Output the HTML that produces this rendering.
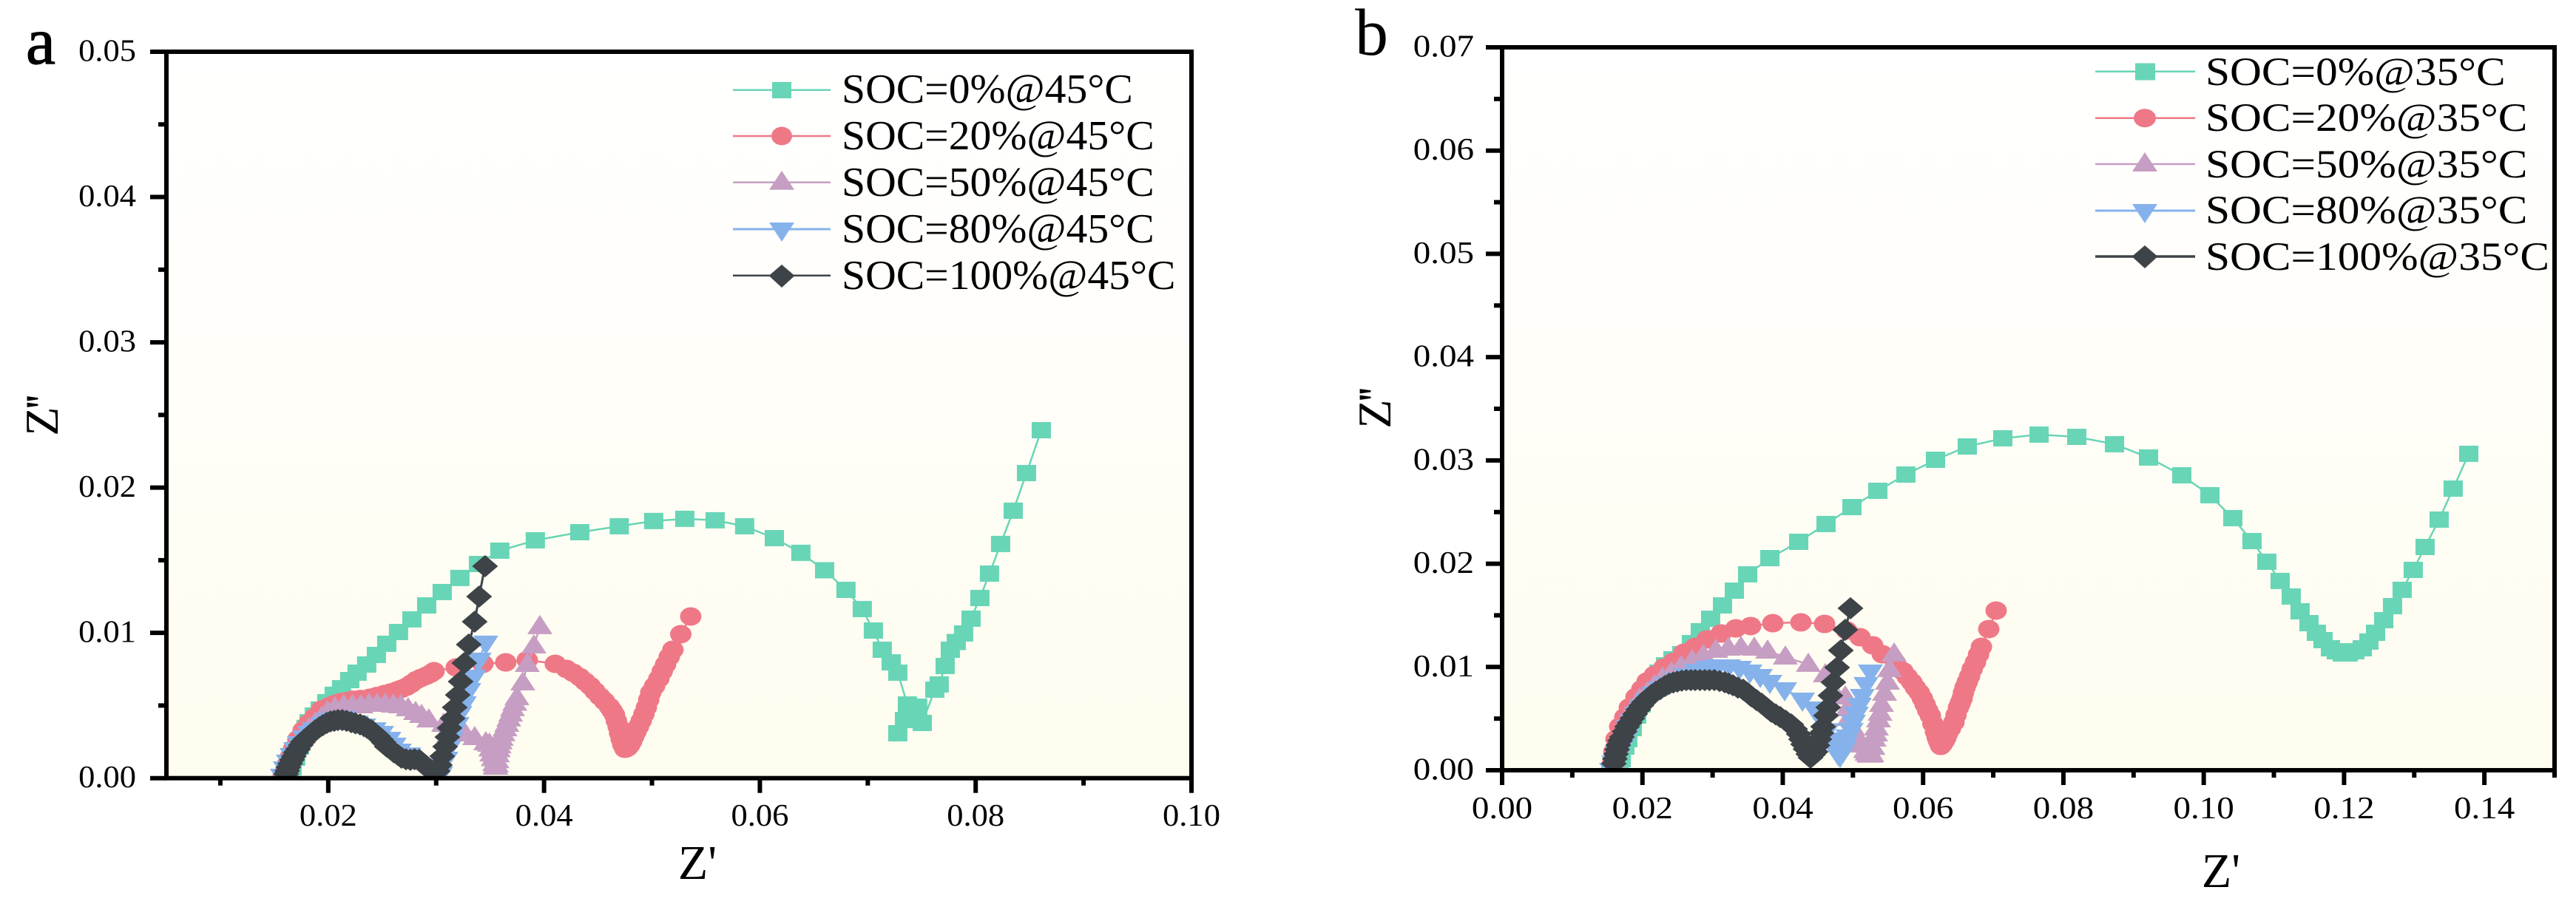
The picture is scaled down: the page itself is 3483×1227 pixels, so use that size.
<!DOCTYPE html>
<html lang="en">
<head>
<meta charset="utf-8">
<title>Nyquist plots at 45°C and 35°C</title>
<style>
html,body{margin:0;padding:0;background:#fff;width:3483px;height:1227px;overflow:hidden}
svg{display:block}
text{font-family:"Liberation Serif",serif;fill:#000}
</style>
</head>
<body>
<svg id="fig" xmlns="http://www.w3.org/2000/svg" width="3483" height="1227" viewBox="0 0 3483 1227">
<defs>
<linearGradient id="bg" x1="0" y1="0" x2="0" y2="1"><stop offset="0" stop-color="#ffffff"/><stop offset="0.5" stop-color="#fffef8"/><stop offset="0.85" stop-color="#fffdf1"/><stop offset="1" stop-color="#fffdf0"/></linearGradient>
<clipPath id="clipA"><rect x="228" y="73" width="1380" height="977"/></clipPath>
<clipPath id="clipB"><rect x="2034" y="67" width="1417" height="972"/></clipPath>
</defs>
<rect x="225" y="70" width="1386" height="983" fill="url(#bg)"/>
<rect x="2031" y="64" width="1423" height="978" fill="url(#bg)"/>
<g id="marksA" clip-path="url(#clipA)"></g>
<g id="marksB" clip-path="url(#clipB)"></g>
<g id="axesA"></g>
<g id="axesB"></g>

<text x="35" y="86" font-size="90" stroke="#000" stroke-width="1.2">a</text>
<text x="1832" y="74" font-size="90">b</text>
<text x="943" y="1189" font-size="66" text-anchor="middle">Z'</text>
<text x="3003" y="1200" font-size="66" text-anchor="middle">Z'</text>
<text transform="translate(78,563) rotate(-90)" font-size="64" letter-spacing="-3" text-anchor="middle">Z''</text>
<text transform="translate(1880,553) rotate(-90)" font-size="64" letter-spacing="-3" text-anchor="middle">Z''</text>

<g>
<g><line x1="991" x2="1123" y1="121.7" y2="121.7" stroke="#68d5b6" stroke-width="2.5"/><rect x="1044" y="111" width="26" height="22" fill="#68d5b6"/><text transform="translate(1138,139) scale(1.03,1)" font-size="56">SOC=0%@45°C</text></g>
<g><line x1="991" x2="1123" y1="184" y2="184" stroke="#ef7887" stroke-width="2.5"/><ellipse cx="1057" cy="184" rx="14" ry="12.5" fill="#ef7887"/><text transform="translate(1138,202) scale(1.03,1)" font-size="56">SOC=20%@45°C</text></g>
<g><line x1="991" x2="1123" y1="246.7" y2="246.7" stroke="#c69ec3" stroke-width="2.5"/><polygon points="1057,231 1074,256.7 1040,256.7" fill="#c69ec3"/><text transform="translate(1138,265) scale(1.03,1)" font-size="56">SOC=50%@45°C</text></g>
<g><line x1="991" x2="1123" y1="310" y2="310" stroke="#86b2ec" stroke-width="3"/><polygon points="1040,301 1074,301 1057,327" fill="#86b2ec"/><text transform="translate(1138,328) scale(1.03,1)" font-size="56">SOC=80%@45°C</text></g>
<g><line x1="991" x2="1123" y1="372.7" y2="372.7" stroke="#3d4347" stroke-width="2.5"/><polygon points="1057,358 1074.5,373 1057,389 1039.5,373" fill="#3d4347"/><text transform="translate(1138,391) scale(1.03,1)" font-size="56">SOC=100%@45°C</text></g>
</g>
<g>
<g><line x1="2833" x2="2968" y1="96.7" y2="96.7" stroke="#68d5b6" stroke-width="2.5"/><rect x="2887" y="85.5" width="27" height="23" fill="#68d5b6"/><text transform="translate(2982,115) scale(1.10,1)" font-size="54">SOC=0%@35°C</text></g>
<g><line x1="2833" x2="2968" y1="159.7" y2="159.7" stroke="#ef7887" stroke-width="2.5"/><ellipse cx="2900" cy="159.7" rx="15" ry="12.5" fill="#ef7887"/><text transform="translate(2982,177) scale(1.10,1)" font-size="54">SOC=20%@35°C</text></g>
<g><line x1="2833" x2="2968" y1="222" y2="222" stroke="#c69ec3" stroke-width="2.5"/><polygon points="2900,206 2917,232 2883,232" fill="#c69ec3"/><text transform="translate(2982,240) scale(1.10,1)" font-size="54">SOC=50%@35°C</text></g>
<g><line x1="2833" x2="2968" y1="285" y2="285" stroke="#86b2ec" stroke-width="3"/><polygon points="2883,276 2917,276 2900,302" fill="#86b2ec"/><text transform="translate(2982,302) scale(1.10,1)" font-size="54">SOC=80%@35°C</text></g>
<g><line x1="2833" x2="2968" y1="347" y2="347" stroke="#3d4347" stroke-width="3.5"/><polygon points="2900,332 2917.5,347 2900,363 2882.5,347" fill="#3d4347"/><text transform="translate(2982,365) scale(1.10,1)" font-size="54">SOC=100%@35°C</text></g>
</g>
</svg>

<script>
// Values are Z' and Z'' in thousandths; UNIT converts to axis units.
const UNIT = 0.001;

// Panel a (45 °C)
const soc0ReA = [16.44,16.64,16.98,17.33,17.67,17.94,18.22,18.70,19.25,19.86,20.55,21.23,21.99,22.67,23.56,24.46,25.42,26.51,27.75,29.12,30.56,32.20,33.92,35.90,39.19,43.31,46.97,50.16,53.04,55.85,58.59,61.34,63.80,66.00,67.98,69.49,70.52,71.34,72.17,72.78,73.67,72.78,73.40,74.63,75.05,76.21,76.62,77.17,77.65,78.20,78.88,79.57,80.39,81.28,82.31,83.48,84.71,86.08];
const soc0ImA = [0.29,0.75,1.41,2.17,2.94,3.45,3.85,4.31,4.72,5.23,5.74,6.19,6.75,7.26,7.82,8.48,9.25,10.06,10.93,11.89,12.81,13.78,14.74,15.66,16.37,16.93,17.34,17.70,17.85,17.75,17.34,16.52,15.51,14.31,12.96,11.64,10.16,8.84,7.97,7.26,5.07,3.09,4.00,4.92,3.80,6.09,6.45,7.72,8.84,9.37,9.96,10.98,12.40,14.08,16.12,18.41,21.00,23.95];
const soc20ReA = [15.82,15.96,16.16,16.44,16.78,17.19,17.67,18.22,18.77,19.38,20.14,20.6,21.10,21.7,22.26,23.0,23.84,24.5,25.21,25.8,26.38,26.8,27.27,27.7,28.16,28.6,29.12,29.5,29.80,31.86,34.33,36.45,38.44,41.04,42.07,42.7,43.31,43.8,44.27,44.7,45.16,45.6,46.05,46.3,46.53,46.7,46.87,47.0,47.15,47.3,47.49,47.6,47.76,47.95,48.11,48.3,48.52,48.75,49.00,49.25,49.48,49.7,49.89,50.25,50.64,50.95,51.26,51.6,51.94,52.67,53.59];
const soc20ImA = [0.14,0.39,0.90,1.41,2.02,2.68,3.29,3.80,4.21,4.72,4.97,5.1,5.23,5.3,5.40,5.45,5.53,5.65,5.79,5.9,6.04,6.15,6.30,6.5,6.75,6.9,7.06,7.2,7.36,7.62,7.87,7.97,8.13,7.87,7.52,7.25,6.96,6.65,6.35,6.0,5.63,5.3,4.92,4.65,4.36,3.95,3.55,3.1,2.68,2.3,2.02,2.05,2.12,2.3,2.53,2.85,3.19,3.55,3.95,4.4,4.87,5.4,5.89,6.35,6.85,7.35,7.82,8.35,8.84,9.91,11.13];
const soc50ReA = [15.82,16.16,16.50,16.85,17.19,17.67,18.22,18.83,19.38,19.93,20.62,21.44,22.26,23.02,23.77,24.52,25.28,26.03,26.72,27.40,28.09,28.64,29.32,30.69,32.68,33.57,34.60,34.94,35.05,35.15,35.28,35.42,35.47,35.53,35.58,35.63,35.68,35.75,35.83,35.93,36.04,36.2,36.38,36.55,36.73,36.9,37.07,37.28,37.48,38.03,38.44,39.06,39.61];
const soc50ImA = [0.39,0.90,1.46,2.02,2.38,2.89,3.39,3.80,4.16,4.56,4.82,4.97,4.97,4.97,5.07,5.07,5.07,5.02,4.97,4.77,4.51,4.31,4.00,3.70,3.04,2.78,2.43,2.33,2.0,1.66,1.33,1.00,0.8,0.75,0.9,1.2,1.6,1.95,2.22,2.5,2.73,3.05,3.39,3.7,4.06,4.4,4.77,5.15,5.53,6.55,7.82,9.09,10.42];
const soc80ReA = [15.75,16.02,16.30,16.64,16.98,17.33,17.81,18.29,18.70,19.52,20.07,20.69,21.44,22.60,23.29,24.25,24.94,25.62,26.10,26.58,26.99,27.47,28.98,30.01,30.42,30.90,31.17,31.38,31.58,31.93,32.20,32.61,33.02,33.50,33.98,34.60];
const soc80ImA = [0.19,0.70,1.16,1.61,2.02,2.43,2.83,3.14,3.39,3.75,4.00,4.11,4.16,3.85,3.65,3.39,3.14,2.73,2.33,1.92,1.56,1.66,0.90,0.34,0.34,1.36,2.12,2.73,3.24,3.75,4.51,5.18,6.09,7.01,8.18,9.35];
const soc100ReA = [16.09,16.2,16.30,16.47,16.64,16.8,16.98,17.2,17.46,17.65,17.87,18.2,18.49,18.8,19.18,19.5,19.86,20.2,20.55,20.9,21.30,21.7,22.13,22.5,22.95,23.3,23.63,24.0,24.32,24.6,24.87,25.15,25.42,25.75,26.10,26.45,26.79,27.2,27.61,28.0,28.43,28.8,29.12,29.5,29.87,30.15,30.35,30.56,30.83,31.04,31.24,31.52,31.72,32.00,32.27,32.61,33.02,33.57,33.98,34.53];
const soc100ImA = [0.29,0.5,0.75,1.0,1.26,1.5,1.77,2.0,2.28,2.5,2.68,2.9,3.09,3.3,3.50,3.65,3.80,3.9,3.95,4.0,4.00,3.95,3.85,3.78,3.70,3.6,3.45,3.3,3.09,2.9,2.68,2.45,2.17,2.0,1.77,1.6,1.41,1.3,1.26,1.3,1.26,1.0,0.75,0.55,0.39,0.49,0.90,1.51,2.17,2.83,3.45,4.11,4.87,5.73,6.65,7.92,9.20,10.77,12.50,14.59];

// Panel b (35 °C)
const soc0ReB = [16.65,16.97,17.50,17.92,18.55,19.18,19.82,20.55,21.40,22.35,23.30,24.35,25.61,26.98,28.25,29.72,31.41,33.10,35.00,38.16,42.27,46.17,49.86,53.55,57.55,61.77,66.30,71.36,76.53,81.90,87.28,92.13,96.87,100.88,104.14,106.88,108.99,110.89,112.47,113.73,115.00,116.05,117.00,118.06,118.90,119.74,120.59,121.53,122.59,123.54,124.49,125.65,126.91,128.28,129.86,131.55,133.55,135.55,137.77];
const soc0ImB = [0.36,1.07,2.29,3.01,4.08,5.30,6.37,7.59,8.59,9.45,10.16,10.74,11.24,12.31,13.46,14.67,15.96,17.39,18.97,20.54,22.12,23.84,25.48,27.06,28.63,30.06,31.35,32.14,32.50,32.28,31.57,30.28,28.56,26.63,24.41,22.19,20.19,18.33,16.82,15.39,14.24,13.31,12.60,11.81,11.52,11.31,11.31,11.52,11.81,12.46,13.31,14.53,15.89,17.47,19.40,21.62,24.27,27.27,30.64];
const soc20ReB = [15.71,15.92,16.23,16.76,17.50,18.13,19.08,19.92,20.66,21.71,23.08,24.45,25.93,27.51,29.20,31.20,33.31,35.42,38.58,42.58,45.96,49.12,51.02,52.81,54.18,56.08,57.13,57.75,58.40,58.9,59.45,59.9,60.29,60.65,61.03,61.4,61.77,62.0,62.19,62.35,62.51,62.75,63.03,63.25,63.45,63.9,64.40,64.7,65.04,65.3,65.56,65.75,65.98,66.3,66.62,67.0,67.46,67.9,68.31,69.36,70.41];
const soc20ImB = [0.64,1.79,3.01,4.22,5.15,6.08,7.09,7.87,8.59,9.23,9.95,10.52,11.38,11.95,12.67,13.24,13.74,13.96,14.24,14.32,14.17,13.53,12.88,12.10,11.24,10.38,9.59,9.05,8.52,8.0,7.52,6.95,6.37,5.8,5.30,4.5,3.72,3.2,2.86,2.6,2.36,2.55,2.86,3.15,3.51,4.05,4.65,5.35,6.08,6.5,6.94,7.5,8.02,8.55,9.09,9.8,10.45,11.2,11.95,13.67,15.46];
const soc50ReB = [15.81,16.34,17.08,17.81,18.66,19.61,20.66,21.71,22.87,24.14,25.51,27.09,28.67,30.46,32.25,34.05,35.94,37.84,40.37,43.64,46.06,48.91,49.23,49.44,49.96,50.49,50.9,51.33,51.8,52.0,52.28,52.45,52.70,52.85,53.02,53.23,53.34,53.65,53.86,54.07,54.50,54.92,55.23,55.87];
const soc50ImB = [0.86,2.43,3.72,4.94,5.94,6.87,7.44,8.16,8.88,9.45,10.02,10.59,11.10,11.60,11.81,11.88,11.81,11.52,10.95,10.24,9.23,7.09,5.94,5.01,4.08,3.36,2.9,2.43,1.9,1.65,1.50,1.45,1.50,2.2,3.01,3.51,4.08,4.87,5.51,6.37,7.44,8.52,9.74,11.24];
const soc80ReB = [15.60,15.92,16.44,17.18,17.71,18.02,18.55,19.18,19.92,20.66,21.61,22.56,23.61,24.98,26.25,27.72,29.30,30.67,32.25,33.84,35.31,36.79,38.16,40.27,42.80,44.48,45.1,45.75,46.3,46.80,47.25,47.64,47.9,48.17,48.4,48.65,48.91,49.3,49.75,50.07,50.49,50.91,51.33,51.86,52.49];
const soc80ImB = [0.07,0.79,1.65,2.51,3.29,4.22,4.80,5.51,6.16,6.80,7.44,7.95,8.38,8.80,9.23,9.66,9.95,10.09,10.09,9.95,9.59,9.16,8.59,7.87,6.87,6.01,5.4,4.80,3.9,3.01,2.45,1.93,1.6,1.43,1.7,2.15,2.65,3.3,3.94,4.72,5.51,6.37,7.23,8.38,9.59];
const soc100ReB = [15.92,16.07,16.23,16.39,16.55,16.8,17.08,17.45,17.81,18.18,18.55,18.97,19.40,19.82,20.24,20.75,21.29,21.9,22.56,23.2,23.82,24.4,24.98,25.6,26.25,26.9,27.51,28.2,28.88,29.55,30.25,31.0,31.73,32.3,32.89,33.6,34.36,34.95,35.52,36.25,37.00,37.7,38.37,39.0,39.63,40.4,41.21,41.75,42.27,42.6,42.90,43.25,43.64,43.95,44.3,44.69,44.95,45.22,45.5,45.75,46.17,46.48,46.80,47.22,47.75,48.28,48.91,49.65];
const soc100ImB = [0.64,1.1,1.57,2.0,2.43,2.85,3.22,3.75,4.22,4.6,5.01,5.45,5.87,6.25,6.59,6.95,7.30,7.6,7.87,8.15,8.38,8.5,8.59,8.68,8.73,8.73,8.73,8.73,8.73,8.73,8.73,8.63,8.52,8.38,8.23,8.0,7.80,7.5,7.16,6.8,6.44,6.05,5.66,5.4,5.15,4.8,4.44,4.0,3.51,3.0,2.51,2.05,1.57,1.22,1.5,1.79,2.4,3.01,3.6,4.22,5.30,6.08,7.23,8.52,9.95,11.60,13.60,15.68];

// Tick labels
const xTicksA = ['0.02','0.04','0.06','0.08','0.10'];
const yTicksA = ['0.00','0.01','0.02','0.03','0.04','0.05'];
const xTicksB = ['0.00','0.02','0.04','0.06','0.08','0.10','0.12','0.14'];
const yTicksB = ['0.00','0.01','0.02','0.03','0.04','0.05','0.06','0.07'];
const xMinorA = [0.01,0.03,0.05,0.07,0.09];
const yMinorA = [0.005,0.015,0.025,0.035,0.045];
const xMinorB = [0.01,0.03,0.05,0.07,0.09,0.11,0.13,0.15];
const yMinorB = [0.005,0.015,0.025,0.035,0.045,0.055,0.065];

const SVGNS = 'http://www.w3.org/2000/svg';
const COLORS = {soc0:'#68d5b6',soc20:'#ef7887',soc50:'#c69ec3',soc80:'#86b2ec',soc100:'#3d4347'};

function scale(d0,d1,r0,r1){ return v => r0 + (v-d0)*(r1-r0)/(d1-d0); }

const panels = {
  a:{ x:scale(0.005,0.10,225,1611), y:scale(0,0.05,1052.7,70), left:225,right:1611,top:70,bottom:1052.7,
      xTicks:xTicksA,yTicks:yTicksA,xMinor:xMinorA,yMinor:yMinorA,labelX:184,sx:1.06,fs:42,xLabY:1117,
      axes:document.getElementById('axesA'),marks:document.getElementById('marksA')},
  b:{ x:scale(0,0.15,2031,3454), y:scale(0,0.07,1042,64), left:2031,right:3454,top:64,bottom:1042,
      xTicks:xTicksB,yTicks:yTicksB,xMinor:xMinorB,yMinor:yMinorB,labelX:1993,sx:1.12,fs:42,xLabY:1107,
      axes:document.getElementById('axesB'),marks:document.getElementById('marksB')}
};

function make(tag,attrs,parent){
  const el=document.createElementNS(SVGNS,tag);
  for(const k in attrs) el.setAttribute(k,attrs[k]);
  parent.appendChild(el);
  return el;
}

function drawAxes(p,id){
  const g=p.axes;
  const xMaj=p.xTicks.map(Number), yMaj=p.yTicks.map(Number);
  const tickSeg=(x1,y1,x2,y2)=>make('line',{x1,y1,x2,y2,stroke:'#000','stroke-width':6},g);
  xMaj.forEach((v,i)=>{
    const px=p.x(v);
    const t=tickSeg(px,p.bottom,px,p.bottom+20);
    
    
    const lab=make('text',{transform:'translate('+px+','+p.xLabY+') scale('+p.sx+',1)','font-size':p.fs,'text-anchor':'middle'},g);
    lab.textContent=p.xTicks[i];
    
    
  });
  p.xMinor.forEach(v=>{
    const px=p.x(v);
    const t=tickSeg(px,p.bottom,px,p.bottom+10);
    
    
  });
  yMaj.forEach((v,i)=>{
    const py=p.y(v);
    const t=tickSeg(p.left-22,py,p.left,py);
    
    
    const lab=make('text',{transform:'translate('+p.labelX+','+(py+12.5)+') scale('+p.sx+',1)','font-size':p.fs,'text-anchor':'end'},g);
    lab.textContent=p.yTicks[i];
    
    
  });
  p.yMinor.forEach(v=>{
    const py=p.y(v);
    const t=tickSeg(p.left-11,py,p.left,py);
    
    
  });
  const frame=make('rect',{x:p.left,y:p.top,width:p.right-p.left,height:p.bottom-p.top,fill:'none',stroke:'#000','stroke-width':6},g);
  
  
}

function drawMarker(parent,shape,cx,cy,color){
  let el;
  if(shape==='square'){
    el=make('rect',{x:cx-13,y:cy-11,width:26,height:22,fill:color},parent);
  }else if(shape==='circle'){
    el=make('ellipse',{cx:cx,cy:cy,rx:14.5,ry:12.5,fill:color},parent);
  }else if(shape==='up'){
    el=make('polygon',{points:cx+','+(cy-16)+' '+(cx+17)+','+(cy+10)+' '+(cx-17)+','+(cy+10),fill:color},parent);
  }else if(shape==='down'){
    el=make('polygon',{points:(cx-17)+','+(cy-9)+' '+(cx+17)+','+(cy-9)+' '+cx+','+(cy+17),fill:color},parent);
  }else{
    el=make('polygon',{points:cx+','+(cy-15)+' '+(cx+17.5)+','+cy+' '+cx+','+(cy+15)+' '+(cx-17.5)+','+cy,fill:color},parent);
  }
  
  
}

function drawSeries(p,name,shape,color,re,im,lw){
  const g=make('g',{},p.marks);
  
  
  const pts=re.map((v,i)=>p.x(v*UNIT).toFixed(1)+','+p.y(im[i]*UNIT).toFixed(1)).join(' ');
  const line=make('polyline',{points:pts,fill:'none',stroke:color,'stroke-width':lw},g);
  
  
  re.forEach((v,i)=>drawMarker(g,shape,p.x(v*UNIT),p.y(im[i]*UNIT),color));
}

drawSeries(panels.a,'soc0-45c','square',COLORS.soc0,soc0ReA,soc0ImA,2.5);
drawSeries(panels.a,'soc20-45c','circle',COLORS.soc20,soc20ReA,soc20ImA,2.5);
drawSeries(panels.a,'soc50-45c','up',COLORS.soc50,soc50ReA,soc50ImA,2.5);
drawSeries(panels.a,'soc80-45c','down',COLORS.soc80,soc80ReA,soc80ImA,2.5);
drawSeries(panels.a,'soc100-45c','diamond',COLORS.soc100,soc100ReA,soc100ImA,3);
drawSeries(panels.b,'soc0-35c','square',COLORS.soc0,soc0ReB,soc0ImB,2.5);
drawSeries(panels.b,'soc20-35c','circle',COLORS.soc20,soc20ReB,soc20ImB,2.5);
drawSeries(panels.b,'soc50-35c','up',COLORS.soc50,soc50ReB,soc50ImB,2.5);
drawSeries(panels.b,'soc80-35c','down',COLORS.soc80,soc80ReB,soc80ImB,2.5);
drawSeries(panels.b,'soc100-35c','diamond',COLORS.soc100,soc100ReB,soc100ImB,3);
drawAxes(panels.a,'a');
drawAxes(panels.b,'b');
</script>
</body>
</html>
